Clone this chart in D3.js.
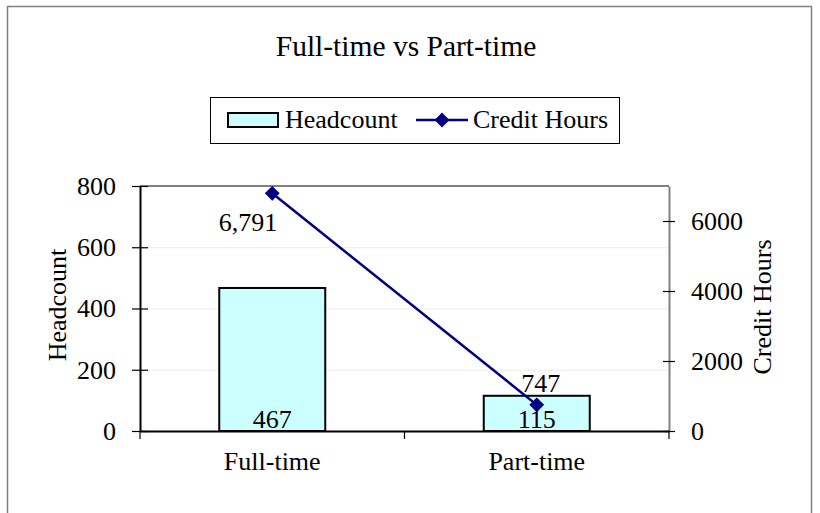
<!DOCTYPE html>
<html>
<head>
<meta charset="utf-8">
<script src="https://cdn.jsdelivr.net/npm/d3@7"></script>
<style>
  body { margin: 0; background: #fff; }
  svg text { font-family: "Liberation Serif", "Times New Roman", serif; fill: #000; }
</style>
</head>
<body>
<div id="chart"></div>
<script>
// chart data
const categories = ["Full-time", "Part-time"];
const headcount = [467, 115];
const creditHours = [6791, 747];
const headcountTicks = [0, 200, 400, 600, 800];
const creditTicks = [0, 2000, 4000, 6000];

const width = 820;
const height = 513;
const plot = { left: 140, right: 669, top: 186, bottom: 431 };
const fontSize = "26px";

const svg = d3
  .select("#chart")
  .append("svg")
  .attr("width", width)
  .attr("height", height);

// outer frame (bottom edge falls off the picture)
svg
  .append("rect")
  .attr("x", 7.5)
  .attr("y", 6.5)
  .attr("width", 804)
  .attr("height", 520)
  .attr("fill", "#fff")
  .attr("stroke", "#808080")
  .attr("stroke-width", 1.5);

svg
  .append("text")
  .attr("x", 406)
  .attr("y", 56)
  .attr("text-anchor", "middle")
  .style("font-size", "29.5px")
  .text("Full-time vs Part-time");

const x = d3
  .scaleBand()
  .domain(categories)
  .range([plot.left, plot.right])
  .paddingInner(0)
  .paddingOuter(0);

const yLeft = d3.scaleLinear().domain([0, 800]).range([plot.bottom, plot.top]);
const yRight = d3.scaleLinear().domain([0, 7000]).range([plot.bottom, plot.top]);

// faint gridlines
svg
  .append("g")
  .selectAll("line")
  .data(headcountTicks.slice(1, -1))
  .enter()
  .append("line")
  .attr("x1", plot.left)
  .attr("x2", plot.right)
  .attr("y1", (d) => yLeft(d) + 0.5)
  .attr("y2", (d) => yLeft(d) + 0.5)
  .attr("stroke", "#ececec")
  .attr("stroke-width", 1);

// top edge of plot area
svg
  .append("line")
  .attr("x1", plot.left)
  .attr("x2", plot.right)
  .attr("y1", plot.top)
  .attr("y2", plot.top)
  .attr("stroke", "#808080")
  .attr("stroke-width", 2);

// bars
const barWidth = 106;
svg
  .append("g")
  .selectAll("rect")
  .data(categories)
  .enter()
  .append("rect")
  .attr("x", (d) => x(d) + x.bandwidth() / 2 - barWidth / 2)
  .attr("y", (d, i) => yLeft(headcount[i]))
  .attr("width", barWidth)
  .attr("height", (d, i) => plot.bottom - yLeft(headcount[i]))
  .attr("fill", "#ccffff")
  .attr("stroke", "#000")
  .attr("stroke-width", 2);

// left axis
const leftAxis = svg
  .append("g")
  .attr("transform", `translate(${plot.left},0)`)
  .call(
    d3
      .axisLeft(yLeft)
      .tickValues(headcountTicks)
      .tickSizeInner(8)
      .tickSizeOuter(0)
      .tickFormat(d3.format("d"))
  );
leftAxis.select(".domain").attr("stroke", "#000").attr("stroke-width", 2);
leftAxis
  .selectAll(".tick line")
  .attr("x1", -8)
  .attr("x2", 8)
  .attr("stroke", "#000")
  .attr("stroke-width", 1.2);
leftAxis
  .selectAll(".tick text")
  .attr("x", -24)
  .style("font-size", fontSize)
  .style("font-family", "Liberation Serif");

// right axis
const rightAxis = svg
  .append("g")
  .attr("transform", `translate(${plot.right},0)`)
  .call(
    d3
      .axisRight(yRight)
      .tickValues(creditTicks)
      .tickSizeInner(6)
      .tickSizeOuter(0)
      .tickFormat(d3.format("d"))
  );
rightAxis.select(".domain").attr("stroke", "#808080").attr("stroke-width", 2);
rightAxis
  .selectAll(".tick line")
  .attr("x1", -6)
  .attr("x2", 6)
  .attr("stroke", "#000")
  .attr("stroke-width", 1.2);
rightAxis
  .selectAll(".tick text")
  .attr("x", 22)
  .style("font-size", fontSize)
  .style("font-family", "Liberation Serif");

// bottom axis
const bottomAxis = svg
  .append("g")
  .attr("transform", `translate(0,${plot.bottom})`)
  .call(d3.axisBottom(x).tickSize(0).tickPadding(0));
bottomAxis.select(".domain").attr("stroke", "#000").attr("stroke-width", 2);
bottomAxis
  .selectAll(".tick text")
  .attr("dy", null)
  .attr("y", 39)
  .style("font-size", fontSize)
  .style("font-family", "Liberation Serif");
// category separators
svg
  .append("g")
  .selectAll("line")
  .data([plot.left, x(categories[1]), plot.right])
  .enter()
  .append("line")
  .attr("x1", (d) => d)
  .attr("x2", (d) => d)
  .attr("y1", plot.bottom)
  .attr("y2", plot.bottom + 8)
  .attr("stroke", "#000")
  .attr("stroke-width", 1.2);

// axis titles
svg
  .append("text")
  .attr("transform", `translate(66,305) rotate(-90)`)
  .attr("text-anchor", "middle")
  .style("font-size", fontSize)
  .text("Headcount");
svg
  .append("text")
  .attr("transform", `translate(771,307) rotate(-90)`)
  .attr("text-anchor", "middle")
  .style("font-size", fontSize)
  .text("Credit Hours");

// credit hours line
const cx = (d, i) => x(categories[i]) + x.bandwidth() / 2;
svg
  .append("path")
  .datum(creditHours)
  .attr("fill", "none")
  .attr("stroke", "#000080")
  .attr("stroke-width", 2.5)
  .attr(
    "d",
    d3
      .line()
      .x(cx)
      .y((d) => yRight(d))
  );
svg
  .append("g")
  .selectAll("path")
  .data(creditHours)
  .enter()
  .append("path")
  .attr("d", d3.symbol().type(d3.symbolSquare).size(110))
  .attr("transform", (d, i) => `translate(${cx(d, i)},${yRight(d)}) rotate(45)`)
  .attr("fill", "#000080");

// data labels
const fmt = d3.format(",");
svg
  .append("g")
  .selectAll("text")
  .data(headcount)
  .enter()
  .append("text")
  .attr("x", (d, i) => x(categories[i]) + x.bandwidth() / 2)
  .attr("y", plot.bottom - 3)
  .attr("text-anchor", "middle")
  .style("font-size", fontSize)
  .text((d) => fmt(d));
svg
  .append("g")
  .selectAll("text")
  .data(creditHours)
  .enter()
  .append("text")
  .attr("x", (d, i) => cx(d, i) + (i === 0 ? 5 : 4))
  .attr("y", (d, i) => yRight(d) + (i === 0 ? 38 : -13))
  .attr("text-anchor", (d, i) => (i === 0 ? "end" : "middle"))
  .style("font-size", fontSize)
  .text((d) => fmt(d));

// legend
const legend = svg.append("g");
legend
  .append("rect")
  .attr("x", 210.5)
  .attr("y", 97.5)
  .attr("width", 409)
  .attr("height", 46)
  .attr("fill", "#fff")
  .attr("stroke", "#000")
  .attr("stroke-width", 1);
legend
  .append("rect")
  .attr("x", 228)
  .attr("y", 113)
  .attr("width", 50)
  .attr("height", 14)
  .attr("fill", "#ccffff")
  .attr("stroke", "#000")
  .attr("stroke-width", 2);
legend
  .append("text")
  .attr("x", 285)
  .attr("y", 128)
  .style("font-size", fontSize)
  .text("Headcount");
legend
  .append("line")
  .attr("x1", 416)
  .attr("x2", 468)
  .attr("y1", 120)
  .attr("y2", 120)
  .attr("stroke", "#000080")
  .attr("stroke-width", 2.5);
legend
  .append("path")
  .attr("d", d3.symbol().type(d3.symbolSquare).size(110))
  .attr("transform", "translate(442,120) rotate(45)")
  .attr("fill", "#000080");
legend
  .append("text")
  .attr("x", 473)
  .attr("y", 128)
  .style("font-size", fontSize)
  .text("Credit Hours");
</script>
</body>
</html>
